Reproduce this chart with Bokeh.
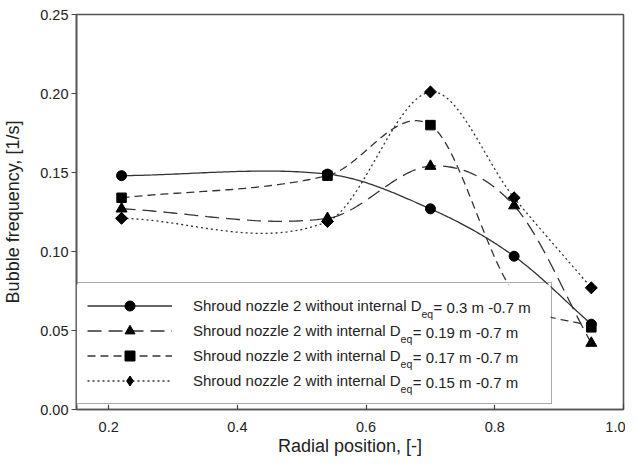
import numpy as np
from bokeh.plotting import figure
from bokeh.models import (Range1d, Legend, LegendItem, Label, BoxAnnotation,
                          NumeralTickFormatter)
from bokeh.embed import file_html
from bokeh.resources import INLINE

# ---------------- data ----------------
radial_position = [0.22, 0.54, 0.70, 0.83, 0.95]
freq_without_030 = [0.148, 0.149, 0.127, 0.097, 0.054]
freq_with_019 = [0.127, 0.121, 0.154, 0.129, 0.042]
freq_with_017 = [0.134, 0.148, 0.180, 0.074, 0.052]
freq_with_015 = [0.121, 0.119, 0.201, 0.134, 0.077]

label_prefix = [
    "Shroud nozzle 2 without internal D",
    "Shroud nozzle 2 with internal D",
    "Shroud nozzle 2 with internal D",
    "Shroud nozzle 2 with internal D",
]
label_sub = "eq"
label_suffix = [
    " = 0.3 m -0.7 m",
    " = 0.19 m -0.7 m",
    " = 0.17 m -0.7 m",
    " = 0.15 m -0.7 m",
]
x_ticks = [0.2, 0.4, 0.6, 0.8, 1.0]
y_ticks = [0.00, 0.05, 0.10, 0.15, 0.20, 0.25]
x_label = "Radial position, [-]"
y_label = "Bubble frequency, [1/s]"

FONT = "Liberation Sans"


def smooth_curve(xs, ys, n=60):
    """Piecewise cubic Hermite curve through the measured points
    (Catmull-Rom style tangents), as drawn by the original software."""
    x = np.asarray(xs, float)
    y = np.asarray(ys, float)
    m = len(x)
    t = np.zeros(m)
    t[0] = (y[1] - y[0]) / (x[1] - x[0])
    t[-1] = (y[-1] - y[-2]) / (x[-1] - x[-2])
    for i in range(1, m - 1):
        t[i] = (y[i + 1] - y[i - 1]) / (x[i + 1] - x[i - 1])
    out_x, out_y = [], []
    for i in range(m - 1):
        h = x[i + 1] - x[i]
        s = np.linspace(0.0, 1.0, n, endpoint=(i == m - 2))
        h00 = 2 * s ** 3 - 3 * s ** 2 + 1
        h10 = s ** 3 - 2 * s ** 2 + s
        h01 = -2 * s ** 3 + 3 * s ** 2
        h11 = s ** 3 - s ** 2
        out_x.append(x[i] + s * h)
        out_y.append(h00 * y[i] + h10 * h * t[i] + h01 * y[i + 1] + h11 * h * t[i + 1])
    return np.concatenate(out_x), np.concatenate(out_y)


# Arial / Liberation Sans advance widths (1/1000 em)
ADV = {' ': 278, 'S': 667, 'h': 556, 'r': 333, 'o': 556, 'u': 556, 'd': 556,
       'n': 556, 'z': 500, 'l': 222, 'e': 556, '2': 556, 'w': 722, 'i': 222,
       't': 278, 'a': 556, 'D': 722, '=': 584, '0': 556, '.': 278, '1': 556,
       '3': 556, '5': 556, '7': 556, '9': 556, 'm': 833, '-': 333, 'q': 556}


def text_width(s, size):
    return sum(ADV.get(ch, 556) for ch in s) * size / 1000.0


p = figure(width=625, height=459, output_backend="svg", toolbar_location=None,
           x_range=Range1d(0.15, 1.0), y_range=Range1d(0.0, 0.25),
           min_border_left=74, min_border_right=2, min_border_top=14,
           min_border_bottom=50)
p.background_fill_color = "white"
p.border_fill_color = "white"
p.xgrid.visible = False
p.ygrid.visible = False
p.outline_line_color = "#555555"
p.outline_line_width = 1.6

for ax in (p.xaxis[0], p.yaxis[0]):
    ax.axis_line_color = "#555555"
    ax.axis_line_width = 1.6
    ax.major_tick_line_color = "#444444"
    ax.major_tick_line_width = 1.2
    ax.minor_tick_line_color = None
    ax.major_label_text_font = FONT
    ax.major_label_text_font_size = "14.5px"
    ax.major_label_text_color = "#222222"
    ax.axis_label_text_font = FONT
    ax.axis_label_text_font_size = "18px"
    ax.axis_label_text_font_style = "normal"
    ax.axis_label_text_color = "#222222"

p.xaxis.ticker = x_ticks
p.yaxis.ticker = y_ticks
p.xaxis.formatter = NumeralTickFormatter(format="0.0")
p.yaxis.formatter = NumeralTickFormatter(format="0.00")
p.xaxis.major_tick_in = 5
p.xaxis.major_tick_out = 0
p.yaxis.major_tick_in = 0
p.yaxis.major_tick_out = 5
p.xaxis.major_label_standoff = 12
p.yaxis.major_label_standoff = 3
p.xaxis.axis_label = x_label
p.yaxis.axis_label = y_label
p.xaxis.axis_label_standoff = 1
p.yaxis.axis_label_standoff = 14

# values, dash, plot marker, size, angle, legend marker
series = [
    (freq_without_030, "solid", "circle", 10, 0.0, None),
    (freq_with_019, "14 7", "triangle", 11, 0.0, None),
    (freq_with_017, "8 5", "square", 9.5, 0.0, None),
    (freq_with_015, "2 3", "square", 8.5, np.pi / 4, "diamond"),
]

LINE_COLOR = "#333333"
items = []
for i, (vals, dash, marker, size, ang, leg_marker) in enumerate(series):
    xx, yy = smooth_curve(radial_position, vals)
    lr = p.line(xx, yy, line_color=LINE_COLOR, line_width=1.3, line_dash=dash)
    leg_r = None
    if leg_marker is not None:
        # slimmer marker hidden under the rotated square; used for the legend sample
        leg_r = p.scatter(radial_position, vals, marker=leg_marker, size=11,
                          fill_color="black", line_color="black")
    sr = p.scatter(radial_position, vals, marker=marker, size=size, angle=ang,
                   fill_color="black", line_color="black")
    items.append(LegendItem(label=label_prefix[i], renderers=[lr, leg_r or sr]))

LEG_PAD = 10
GLYPH_W = 85
STANDOFF = 21
ROW_H = 25
SPACING = 0
LEG_FONT = 15
SUB_FONT = 10.5
LEG_X, LEG_Y = 0, 5
LEG_W = 474

leg_h = 2 * LEG_PAD + len(items) * ROW_H + (len(items) - 1) * SPACING

# white legend background (above the curves, below the legend contents)
p.add_layout(BoxAnnotation(left=LEG_X, right=LEG_X + LEG_W, bottom=LEG_Y,
                           top=LEG_Y + leg_h, left_units="screen",
                           right_units="screen", bottom_units="screen",
                           top_units="screen", fill_color="white", fill_alpha=1.0,
                           line_color=None, level="annotation"))

legend = Legend(items=items, location=(LEG_X, LEG_Y), padding=LEG_PAD,
                glyph_width=GLYPH_W, glyph_height=ROW_H, label_height=ROW_H,
                label_width=LEG_W - 2 * LEG_PAD - GLYPH_W - STANDOFF,
                label_standoff=STANDOFF, spacing=SPACING,
                border_line_color="#555555", border_line_width=1.6,
                background_fill_alpha=0.0,
                label_text_font=FONT, label_text_font_size=f"{LEG_FONT}px",
                label_text_color="#222222")
p.add_layout(legend, "center")

text_x0 = LEG_X + LEG_PAD + GLYPH_W + STANDOFF
for i in range(len(items)):
    yc = LEG_Y + leg_h - LEG_PAD - ROW_H / 2 - i * (ROW_H + SPACING)
    w1 = text_width(label_prefix[i], LEG_FONT)
    ws = text_width(label_sub, SUB_FONT)
    p.add_layout(Label(x=text_x0 + w1 + 0.5, y=yc - 6.5, x_units="screen",
                       y_units="screen", text=label_sub, text_font=FONT,
                       text_font_size=f"{SUB_FONT}px", text_baseline="middle",
                       text_align="left", text_color="#222222", level="overlay"))
    p.add_layout(Label(x=text_x0 + w1 + ws + 1.0, y=yc, x_units="screen",
                       y_units="screen", text=label_suffix[i], text_font=FONT,
                       text_font_size=f"{LEG_FONT}px", text_baseline="middle",
                       text_align="left", text_color="#222222", level="overlay"))

open("out.html", "w").write(file_html(p, INLINE))
